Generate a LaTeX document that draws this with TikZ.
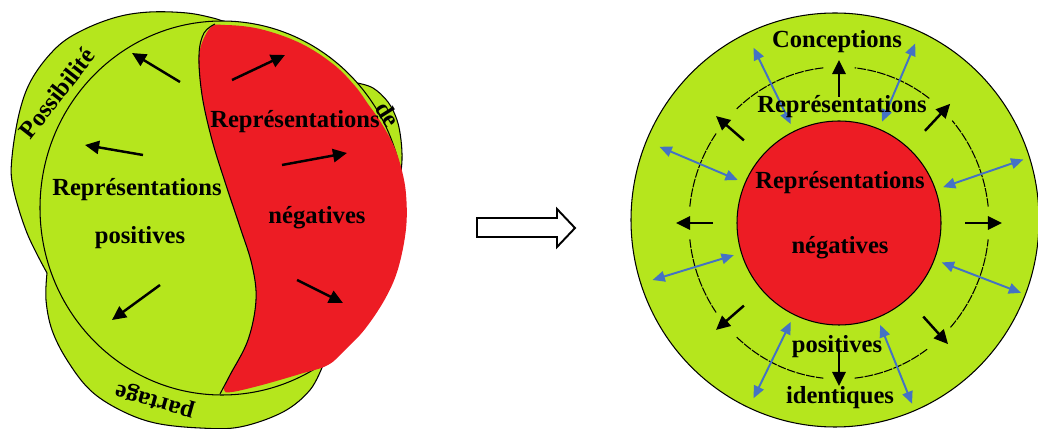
\documentclass[tikz,border=0pt]{standalone}
\usepackage{fontspec}
\setmainfont{Liberation Serif}
\usetikzlibrary{arrows.meta, calc}

\definecolor{leafgreen}{HTML}{B5E61D}
\definecolor{paintred}{HTML}{ED1C24}
\definecolor{linkblue}{HTML}{4472C4}

\begin{document}
\begin{tikzpicture}[
    x=0.02cm, y=0.02cm, % One unit is one pixel of the sketch
    % Define text style
    word/.style={
        font=\fontsize{14}{16}\selectfont\bfseries, % Bold serif
        inner sep=0pt % Tight box
      },
    % Define area style
    zone/.style={
        fill=leafgreen, % Green area
        draw=black, % Black border
        line width=0.6pt % Thin border
      },
    % Define arrow styles
    push/.style={
        -{Triangle[length=8pt, width=7.5pt]}, % Black head
        line width=1.4pt % Thick shaft
      },
    swap/.style={
        {Triangle[length=7pt, width=6pt]}-{Triangle[length=7pt, width=6pt]}, % Two heads
        draw=linkblue, % Blue line
        line width=1.1pt
      },
    ring/.style={
        line width=0.6pt, % Thin line
        dash pattern=on 5pt off 0.7pt % Fine dashes
      }
  ]

  \useasboundingbox (0,0) rectangle (1038,429);

  % Left sketch: outer green area (upper and lower lobes)
  \fill[leafgreen] plot[smooth, tension=0.6] coordinates {(225,407) (213,411) (187,416) (150,417) (117,412) (83,399) (57,382) (33,352) (20,319) (12,272) (13,242) (27,196) (47,156)}
    -- plot[smooth, tension=0.6] coordinates {(47,156) (46,129) (52,99) (67,69) (90,39) (120,19) (155,6) (200,1) (240,2) (283,17) (310,39) (323,64)}
    -- (330,150) -- cycle;
  \draw[line width=0.6pt] plot[smooth, tension=0.6] coordinates {(225,407) (213,411) (187,416) (150,417) (117,412) (83,399) (57,382) (33,352) (20,319) (12,272) (13,242) (27,196) (47,156)};
  \draw[line width=0.6pt] plot[smooth, tension=0.6] coordinates {(47,156) (46,129) (52,99) (67,69) (90,39) (120,19) (155,6) (200,1) (240,2) (283,17) (310,39) (323,64)};

  % Small bump on the right
  \fill[leafgreen] plot[smooth, tension=0.6] coordinates {(357,346) (373,341) (388,327) (397,309) (401,289) (402,269) (400,249)} -- (360,260) -- cycle;
  \draw[line width=0.6pt] plot[smooth, tension=0.6] coordinates {(357,346) (373,341) (388,327) (397,309) (401,289) (402,269) (400,249)};

  % Inner oval
  \filldraw[zone] (222,221) ellipse [x radius=182, y radius=187];

  % Red part
  \fill[paintred] plot[smooth cycle, tension=0.6] coordinates {(210,401) (225,404) (260,400) (300,386) (333,365) (355,343) (368,325) (380,308) (393,285) (401,262) (406,235) (406,200) (398,160) (385,130) (365,100) (346,80) (328,64) (300,55) (262,44) (232,37) (224,39) (230,54) (248,89) (256,129) (252,164) (240,202) (226,244) (212,289) (202,334) (199,374)};
  \draw[line width=0.6pt] plot[smooth, tension=0.6] coordinates {(220,35) (230,54) (248,89) (256,129) (252,164) (240,202) (226,244) (212,289) (202,334) (199,374) (204,396) (215,405)};

  % Left sketch arrows
  \coordinate (la1) at (180,347); \coordinate (lb1) at (132,376);
  \coordinate (la2) at (143,274); \coordinate (lb2) at (85,284);
  \coordinate (la3) at (160,144); \coordinate (lb3) at (112,109);
  \coordinate (la4) at (232,349); \coordinate (lb4) at (285,374);
  \coordinate (la5) at (282,264); \coordinate (lb5) at (347,276);
  \coordinate (la6) at (297,149); \coordinate (lb6) at (343,126);
  \draw[push] (la1) -- (lb1);
  \draw[push] (la2) -- (lb2);
  \draw[push] (la3) -- (lb3);
  \draw[push] (la4) -- (lb4);
  \draw[push] (la5) -- (lb5);
  \draw[push] (la6) -- (lb6);

  % Left sketch labels
  \node[word] (posA) at (137,239) {Représentations};
  \node[word] (posB) at (140,191) {positives};
  \node[word] (negA) at (295,307) {Représentations};
  \node[word] (negB) at (317,211) {négatives};
  \node[word, rotate=52] (poss) at (57,336) {Possibilité};
  \node[word, rotate=-58] (de) at (388,315) {de};
  \node[word, rotate=164] (part) at (155,29) {partage};

  % Hollow arrow in the middle
  \draw[line width=1.1pt, fill=white] (477,192) -- (557,192) -- (557,182) -- (575,201) -- (557,220) -- (557,211) -- (477,211) -- cycle;

  % Right sketch: circles
  \coordinate (mid) at (839,206);
  \filldraw[zone] (835,209) ellipse [x radius=204, y radius=207];
  \filldraw[zone, fill=paintred] (mid) circle [radius=102];
  \foreach \a/\b in {-139/-90, -90/-48, -48/0, 0/47, 47/90, 90/139, 139/180, 180/221}
    \draw[ring] ($(mid)+(\a+6:150 and 156)$) arc[start angle=\a+6, end angle=\b-6, x radius=150, y radius=156];

  % Black arrows across the dashed ring
  \foreach \a in {90,47,0,-48,-90,-139,180,139} {
    \coordinate (bt) at ($(mid)+(\a:126)$);
    \coordinate (bh) at ($(mid)+(\a:163)$);
    \draw[push] (bt) -- (bh);
  }

  % Blue two-way arrows
  \foreach \a in {116,67,157,19,197,-21,244,-68} {
    \coordinate (ui) at ($(mid)+(\a:110)$);
    \coordinate (uo) at ($(mid)+(\a:195)$);
    \draw[swap] (ui) -- (uo);
  }

  % Right sketch labels
  \node[word] (conc) at (837,387) {Conceptions};
  \node[word] (repO) at (842,322) {Représentations};
  \node[word] (repI) at (840,246) {Représentations};
  \node[word] (negI) at (840,181) {négatives};
  \node[word] (posI) at (837,82) {positives};
  \node[word] (iden) at (840,31) {identiques};

\end{tikzpicture}
\end{document}
